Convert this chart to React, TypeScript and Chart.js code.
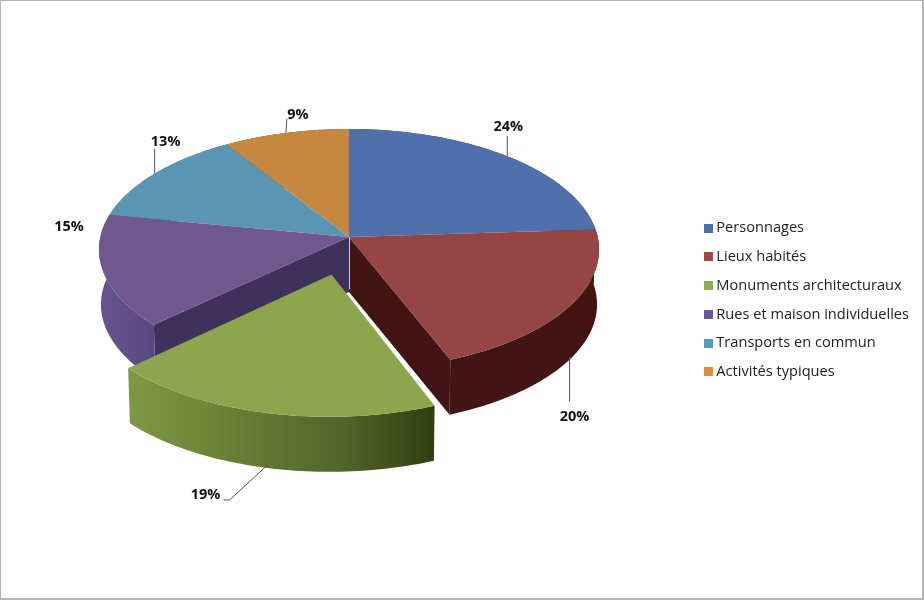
import React, { useEffect, useRef } from "react";
import { Chart, registerables } from "chart.js";

Chart.register(...registerables);

const categories = [
  "Personnages",
  "Lieux habités",
  "Monuments architecturaux",
  "Rues et maison individuelles",
  "Transports en commun",
  "Activités typiques",
];
const shares = [24, 20, 19, 15, 13, 9];
const explodedShare = [0, 0, 1, 0, 0, 0];
const topColors = ["#5070AC", "#954644", "#8DA54D", "#70588F", "#5A96B4", "#C6873F"];
const legendColors = ["#4673B0", "#A64644", "#8DAE50", "#6F55A0", "#4C9FBE", "#DE8E38"];
const wallColors = ["#2F4468", "#421514", "#5F7A30", "#604C90", "#38627A", "#7F5520"];
const sideColors = ["#2F4468", "#421514", "#4A5A20", "#3F305C", "#38627A", "#7F5520"];

// view geometry of the tilted pie
const HUB_X = 349;
const HUB_Y = 237;
const PERSP = 0.1037;
const SCALE_X = 248.7 / 250;
const SCALE_Y = 119.2 / 250;
const DEPTH = 55;
const EXPLODE_PX = 312;

// label placement relative to each slice's anchor: [label dx, label dy, elbow dx, elbow dy, show leader]
const labelLayout: number[][] = [
  [1, -29, 0, -20, 1],
  [5, 60, 0, 45, 1],
  [-62, 30, -38, 35, 1],
  [-36, -96, 0, 0, 0],
  [11, -32, 0, -25, 1],
  [12, -18, 1, -14, 1],
];

function project(u: number, v: number, R: number, depth = 0) {
  const w = 1 - (PERSP * v) / R;
  const x = (SCALE_X * u) / w;
  const y = (SCALE_Y * v) / w;
  const shrink = depth ? 0.992 : 1;
  return { x: HUB_X + x * shrink, y: HUB_Y + y + depth };
}

function arcGeom(arc: any) {
  const R = arc.outerRadius;
  const mid = (arc.startAngle + arc.endAngle) / 2;
  const off = (arc.options.offset || 0) / 4;
  return { R, mid, ou: Math.cos(mid) * off, ov: Math.sin(mid) * off, start: arc.startAngle, end: arc.endAngle };
}

function rimPoints(g: any, depth: number) {
  const pts = [];
  const steps = 60;
  for (let i = 0; i <= steps; i++) {
    const a = g.start + ((g.end - g.start) * i) / steps;
    pts.push(project(g.ou + Math.cos(a) * g.R, g.ov + Math.sin(a) * g.R, g.R, depth));
  }
  return pts;
}

function poly(ctx: CanvasRenderingContext2D, pts: { x: number; y: number }[], fill: any) {
  ctx.beginPath();
  pts.forEach((p, i) => (i ? ctx.lineTo(p.x, p.y) : ctx.moveTo(p.x, p.y)));
  ctx.closePath();
  ctx.fillStyle = fill;
  ctx.fill();
}

function swatch(color: string) {
  const c = document.createElement("canvas");
  c.width = 9;
  c.height = 9;
  const x = c.getContext("2d")!;
  x.fillStyle = color;
  x.fillRect(0, 0, 9, 9);
  return c;
}

const pie3d = {
  id: "pie3d",
  beforeDatasetDraw(chart: any) {
    const ctx: CanvasRenderingContext2D = chart.ctx;
    const arcs: any[] = chart.getDatasetMeta(0).data;
    const order = arcs.map((a, i) => i).sort((a, b) => {
      const ea = explodedShare[a];
      const eb = explodedShare[b];
      if (ea !== eb) return ea - eb;
      return Math.sin(arcGeom(arcs[a]).mid) - Math.sin(arcGeom(arcs[b]).mid);
    });
    ctx.save();
    // radial faces opened up by the pulled-out slice
    arcs.forEach((arc, i) => {
      const g = arcGeom(arc);
      const n = arcs.length;
      const edges = [];
      if (explodedShare[(i + 1) % n]) edges.push(g.end);
      if (explodedShare[(i - 1 + n) % n]) edges.push(g.start);
      edges.forEach((a) => {
        const hubTop = project(0, 0, g.R);
        const rimTop = project(Math.cos(a) * g.R, Math.sin(a) * g.R, g.R);
        const rimBot = project(Math.cos(a) * g.R, Math.sin(a) * g.R, g.R, DEPTH);
        const hubBot = project(0, 0, g.R, DEPTH);
        poly(ctx, [hubTop, rimTop, rimBot, hubBot], sideColors[i]);
      });
    });
    // outer walls, back to front
    order.forEach((i) => {
      const g = arcGeom(arcs[i]);
      const top = rimPoints(g, 0);
      const bot = rimPoints(g, DEPTH).reverse();
      let fill: any = wallColors[i];
      if (i === 2) {
        const gr = ctx.createLinearGradient(top[top.length - 1].x, 0, top[0].x, 0);
        gr.addColorStop(0, "#7E9942");
        gr.addColorStop(0.35, "#677F35");
        gr.addColorStop(0.7, "#51652A");
        gr.addColorStop(1, "#313F0F");
        fill = gr;
      } else if (i === 3) {
        const gr = ctx.createLinearGradient(99, 0, 160, 0);
        gr.addColorStop(0, "#66548F");
        gr.addColorStop(1, "#574780");
        fill = gr;
      }
      poly(ctx, top.concat(bot), fill);
    });
    // top faces, pulled-out slice last
    order.forEach((i) => {
      const g = arcGeom(arcs[i]);
      const hub = project(g.ou, g.ov, g.R);
      poly(ctx, [hub, ...rimPoints(g, 0)], topColors[i]);
    });
    // seam at the hub
    ctx.strokeStyle = "#C9CCD6";
    ctx.lineWidth = 1;
    ctx.beginPath();
    ctx.moveTo(HUB_X + 0.5, HUB_Y);
    ctx.lineTo(HUB_X + 0.5, HUB_Y + DEPTH - 3);
    ctx.stroke();
    ctx.restore();
    return false;
  },
  afterDatasetsDraw(chart: any) {
    const ctx: CanvasRenderingContext2D = chart.ctx;
    const arcs: any[] = chart.getDatasetMeta(0).data;
    ctx.save();
    ctx.font = "bold 14.5px 'Open Sans'";
    ctx.textAlign = "center";
    ctx.textBaseline = "middle";
    arcs.forEach((arc, i) => {
      const g = arcGeom(arc);
      const u = g.ou + Math.cos(g.mid) * g.R;
      const v = g.ov + Math.sin(g.mid) * g.R;
      const front = Math.sin(g.mid) > 0;
      const a = project(u, v, g.R, front ? DEPTH - 3 : 0);
      const [ldx, ldy, edx, edy, leader] = labelLayout[i];
      if (leader) {
        ctx.strokeStyle = "#555555";
        ctx.lineWidth = 1;
        ctx.beginPath();
        ctx.moveTo(a.x, a.y);
        ctx.lineTo(a.x + edx, a.y + edy);
        if (i === 2) ctx.lineTo(a.x + edx - 6, a.y + edy);
        ctx.stroke();
      }
      ctx.fillStyle = "#111111";
      ctx.fillText(`${shares[i]}%`, a.x + ldx, a.y + ldy);
    });
    ctx.restore();
  },
};

export default function App() {
  const ref = useRef<HTMLCanvasElement>(null);
  useEffect(() => {
    document.body.style.margin = "0";
    const chart = new Chart(ref.current!, {
      type: "pie",
      data: {
        labels: categories,
        datasets: [
          {
            data: shares,
            backgroundColor: legendColors,
            borderWidth: 0,
            offset: explodedShare.map((e) => e * EXPLODE_PX),
          },
        ],
      },
      options: {
        responsive: false,
        animation: false,
        radius: 250,
        layout: { padding: { right: 5 } },
        plugins: {
          tooltip: { enabled: false },
          legend: {
            position: "right",
            labels: {
              usePointStyle: true,
              pointStyleWidth: 0.5,
              boxHeight: 9,
              padding: 14.1,
              color: "#222222",
              font: { family: "'Open Sans'", size: 14.6 },
              generateLabels: (chart: any) =>
                (Chart as any).overrides.pie.plugins.legend.labels
                  .generateLabels(chart)
                  .map((item: any, i: number) => ({ ...item, pointStyle: swatch(legendColors[i]) })),
            },
          },
        },
      } as any,
      plugins: [pie3d as any],
    });
    return () => chart.destroy();
  }, []);
  return (
    <div style={{ width: 924, height: 600, boxSizing: "border-box", background: "#fff", position: "relative" }}>
      <canvas ref={ref} width={924} height={600} style={{ display: "block" }} />
      <div style={{ position: "absolute", inset: 0, border: "1.5px solid #B4B4B4", borderRightWidth: 2, borderBottomWidth: 2, pointerEvents: "none" }} />
    </div>
  );
}
